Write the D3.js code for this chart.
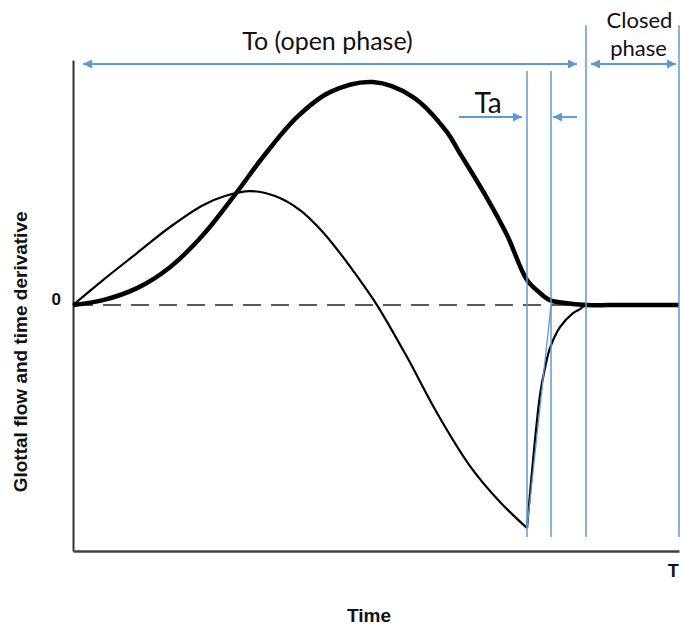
<!DOCTYPE html>
<html><head><meta charset="utf-8">
<script src="https://cdn.jsdelivr.net/npm/d3@7"></script>
<style>body{margin:0;background:#fff}svg{display:block}</style>
</head><body><svg id="c" width="680" height="627"></svg>
<script>
// ---- data (time in units of T/10, amplitude normalised to flow peak) ----
const T = 10;
const Te = 7.492;
const Ta = 0.396;
const Tc = 8.465;

const flowTime  = [0,0.495,1.056,1.601,2.145,2.706,3.135,3.696,4.241,4.950,5.611,6.172,6.353,6.832,7.162,7.492,7.706,7.871,8.119,8.465,8.861,9.356,10];
const flowValue = [0,0.022,0.076,0.170,0.314,0.507,0.664,0.843,0.955,1.000,0.933,0.776,0.695,0.480,0.314,0.112,0.054,0.022,0.009,0,0,0,0];

const derivOpenTime  = [0,0.495,1.056,1.601,2.145,2.508,2.921,3.333,3.746,4.076,4.406,4.851,5.017,5.512,6.007,6.551,7.046,7.492];
const derivOpenValue = [0,0.112,0.233,0.350,0.448,0.489,0.511,0.489,0.426,0.341,0.233,0.067,0,-0.233,-0.484,-0.722,-0.883,-1.000];

const derivReturnTime  = [7.492,7.706,7.789,7.871,8.036,8.251,8.366,8.465,8.861,9.356,10];
const derivReturnValue = [-1.000,-0.404,-0.283,-0.193,-0.099,-0.036,-0.018,0,0,0,0];

const yTickValues = [0];
const yTickLabels = ["0"];
const xTickValues = [T];
const xTickLabels = ["T"];

const markerTimes = [Te, Te + Ta, Tc, T];
const markerTops  = [1.05, 1.05, 1.255, 1.255];
const markerBottom = -1.04;
const phaseArrowLevel = 1.081;
const taArrowLevel = 0.843;

const xTitle = "Time";
const yTitle = "Glottal flow and time derivative";
const openLabel = "To (open phase)";
const closedLabel = ["Closed", "phase"];
const taLabel = "Ta";

// ---- layout ----
const svg = d3.select("#c");
const x = d3.scaleLinear().domain([0, T]).range([73, 679]);
const y = d3.scaleLinear().domain([-1.103, 1.099]).range([551, 60]);
const blue = "#5B9BD5";
const calibri = "Lato, 'Open Sans', sans-serif";

svg.append("rect").attr("width", 680).attr("height", 627).attr("fill", "#fff");

const defs = svg.append("defs");
const m = defs.append("marker").attr("id", "ah")
  .attr("viewBox", "0 0 10 10").attr("refX", 10).attr("refY", 5)
  .attr("markerWidth", 5).attr("markerHeight", 4.5).attr("markerUnits", "strokeWidth")
  .attr("orient", "auto-start-reverse");
m.append("path").attr("d", "M0,0 L10,5 L0,10 z").attr("fill", blue);

// zero reference (dashed)
svg.append("line")
  .attr("x1", x(0)).attr("x2", x(Tc)).attr("y1", y(0)).attr("y2", y(0))
  .attr("stroke", "#595959").attr("stroke-width", 2).attr("stroke-dasharray", "18,10")
  .attr("stroke-dashoffset", -2);

// axes
const yAxis = d3.axisLeft(y).tickValues(yTickValues).tickFormat((d, i) => yTickLabels[i])
  .tickSize(0).tickPadding(12).tickSizeOuter(0);
const gy = svg.append("g").attr("transform", `translate(${x(0)},0)`).call(yAxis);
gy.select(".domain").attr("stroke", "#333").attr("stroke-width", 2);
gy.selectAll("text").attr("font-family", "'Liberation Sans', Arial, sans-serif")
  .attr("font-weight", "bold").attr("font-size", 17).attr("fill", "#111").attr("dy", "-0.05em");

const xAxis = d3.axisBottom(x).tickValues(xTickValues).tickFormat((d, i) => xTickLabels[i])
  .tickSize(0).tickPadding(13).tickSizeOuter(0);
const gx = svg.append("g").attr("transform", `translate(0,${y.range()[0]})`).call(xAxis);
gx.select(".domain").attr("stroke", "#404040").attr("stroke-width", 2.5);
gx.selectAll("text").attr("font-family", "'Liberation Sans', Arial, sans-serif")
  .attr("font-weight", "bold").attr("font-size", 18).attr("fill", "#111").attr("dx", "-0.35em");

// curves
const line = d3.line().x(d => x(d[0])).y(d => y(d[1])).curve(d3.curveCatmullRom.alpha(0.5));
const zip = (a, b) => a.map((t, i) => [t, b[i]]);

svg.append("path").datum(zip(derivOpenTime, derivOpenValue)).attr("d", line)
  .attr("fill", "none").attr("stroke", "#000").attr("stroke-width", 2.2);
svg.append("path").datum(zip(derivReturnTime, derivReturnValue)).attr("d", line)
  .attr("fill", "none").attr("stroke", "#000").attr("stroke-width", 2.2);
svg.append("path").datum(zip(flowTime, flowValue)).attr("d", line)
  .attr("fill", "none").attr("stroke", "#000").attr("stroke-width", 4.5)
  .attr("stroke-linejoin", "round");

// blue markers
svg.selectAll("line.mk").data(markerTimes).join("line").attr("class", "mk")
  .attr("x1", d => x(d)).attr("x2", d => x(d))
  .attr("y1", (d, i) => y(markerTops[i])).attr("y2", y(markerBottom))
  .attr("stroke", blue).attr("stroke-width", 1.5);

// tangent line defining Ta
svg.append("line").attr("x1", x(Te)).attr("y1", y(-1.0)).attr("x2", x(Te + Ta)).attr("y2", y(0))
  .attr("stroke", blue).attr("stroke-width", 1.3);

// arrows
function arrow(x1, x2, yy, both) {
  const l = svg.append("line").attr("x1", x1).attr("x2", x2).attr("y1", yy).attr("y2", yy)
    .attr("stroke", blue).attr("stroke-width", 2).attr("marker-end", "url(#ah)");
  if (both) l.attr("marker-start", "url(#ah)");
}
arrow(x(0) + 10, x(Tc) - 9, y(phaseArrowLevel), true);
arrow(x(Tc) + 5, x(T) - 3, y(phaseArrowLevel), true);
arrow(x(Te) - 68, x(Te) - 5, y(taArrowLevel), false);
arrow(x(Te + Ta) + 26, x(Te + Ta) + 2, y(taArrowLevel), false);

// annotation text
svg.append("text").attr("x", x(Tc / 2) - 2).attr("y", y(phaseArrowLevel) - 14)
  .attr("text-anchor", "middle").attr("font-family", calibri).attr("font-size", 25)
  .attr("fill", "#111").text(openLabel);
svg.append("text").attr("x", x((Tc + T) / 2) + 7).attr("y", y(phaseArrowLevel) - 36)
  .attr("text-anchor", "middle").attr("font-family", calibri).attr("font-size", 22)
  .attr("fill", "#111").text(closedLabel[0]);
svg.append("text").attr("x", x((Tc + T) / 2) + 6).attr("y", y(phaseArrowLevel) - 8)
  .attr("text-anchor", "middle").attr("font-family", calibri).attr("font-size", 22)
  .attr("fill", "#111").text(closedLabel[1]);
svg.append("text").attr("x", x(Te) - 39).attr("y", y(taArrowLevel) - 4)
  .attr("text-anchor", "middle").attr("font-family", calibri).attr("font-size", 28)
  .attr("fill", "#111").text(taLabel);

// titles
svg.append("text").attr("x", (x(0) + x(T)) / 2 - 7).attr("y", 622)
  .attr("text-anchor", "middle").attr("font-family", "'Liberation Sans', Arial, sans-serif")
  .attr("font-weight", "bold").attr("font-size", 19).attr("fill", "#111").text(xTitle);
svg.append("text").attr("transform", `translate(27,${y(-0.21)}) rotate(-90)`)
  .attr("text-anchor", "middle").attr("font-family", "'Liberation Sans', Arial, sans-serif")
  .attr("font-weight", "bold").attr("font-size", 19).attr("fill", "#111").text(yTitle);
</script></body></html>
